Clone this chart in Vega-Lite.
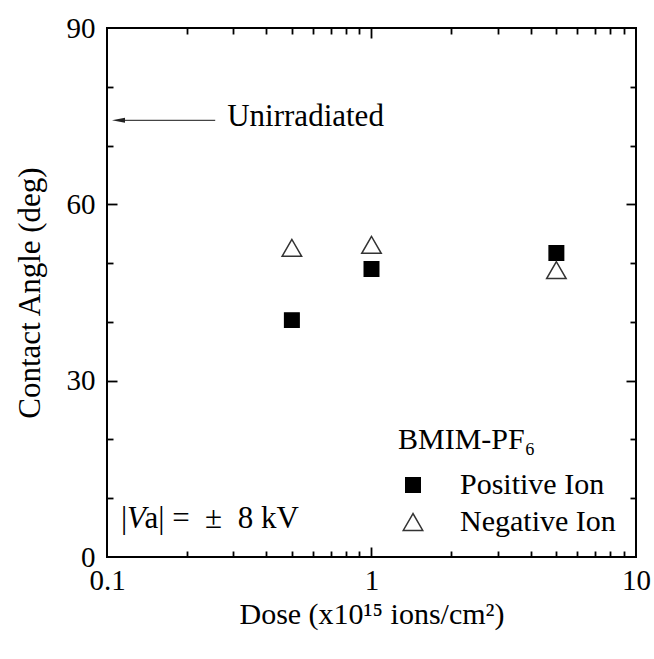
{
  "$schema": "https://vega.github.io/schema/vega-lite/v6.json",
  "width": 529,
  "height": 529,
  "autosize": {"type": "none"},
  "padding": {"left": 107, "top": 28, "right": 18, "bottom": 102},
  "background": "white",
  "config": {
    "font": "Liberation Serif",
    "view": {"stroke": "black", "strokeWidth": 2},
    "axis": {
      "labelFont": "Liberation Serif",
      "titleFont": "Liberation Serif",
      "labelColor": "black",
      "titleColor": "black",
      "titleFontWeight": "normal",
      "labelFontSize": 29,
      "titleFontSize": 30,
      "grid": false,
      "domain": false,
      "tickColor": "black",
      "tickWidth": 1.8
    },
    "legend": {"symbolOpacity": 1}
  },
  "datasets": {
    "pts": [
      {"dose": 0.5, "angle": 40.3, "series": "Positive Ion"},
      {"dose": 1, "angle": 49.0, "series": "Positive Ion"},
      {"dose": 5, "angle": 51.7, "series": "Positive Ion"},
      {"dose": 0.5, "angle": 52.6, "series": "Negative Ion"},
      {"dose": 1, "angle": 53.1, "series": "Negative Ion"},
      {"dose": 5, "angle": 48.8, "series": "Negative Ion"}
    ]
  },
  "resolve": {"axis": {"x": "independent", "y": "independent"}},
  "layer": [
    {
      "data": {"name": "pts"},
      "mark": {"type": "point", "filled": true, "opacity": 1, "strokeWidth": 1.5},
      "encoding": {
        "x": {
          "field": "dose", "type": "quantitative",
          "scale": {"type": "log", "domain": [0.1, 10], "nice": false},
          "axis": {"orient": "bottom", "values": [0.1, 1, 10], "format": "~g", "ticks": false, "labelFlush": false, "labelPadding": 9, "title": "Dose (x10¹⁵ ions/cm²)", "titlePadding": 4}
        },
        "y": {
          "field": "angle", "type": "quantitative",
          "scale": {"domain": [0, 90], "nice": false, "zero": true},
          "axis": {"orient": "left", "values": [0, 30, 60, 90], "ticks": false, "labelFlush": false, "labelPadding": 12, "title": "Contact Angle (deg)", "titleFontSize": 31, "titlePadding": 20}
        },
        "shape": {"field": "series", "type": "nominal", "title": "BMIM-PF₆",
          "scale": {"domain": ["Positive Ion", "Negative Ion"], "range": ["square", "triangle-up"]},
          "legend": {"orient": "none", "legendX": 291, "legendY": 397, "padding": 0, "offset": 0,
            "titleFont": "Liberation Serif", "titleFontSize": 30, "titleFontWeight": "normal", "titleColor": "black",
            "labelFont": "Liberation Serif", "labelFontSize": 30, "labelColor": "black",
            "labelOffset": 32, "rowPadding": 7, "titlePadding": 15, "symbolStrokeWidth": 1.5}},
        "fill": {"field": "series", "type": "nominal", "title": "BMIM-PF₆",
          "scale": {"domain": ["Positive Ion", "Negative Ion"], "range": ["black", "white"]}},
        "stroke": {"field": "series", "type": "nominal", "title": "BMIM-PF₆",
          "scale": {"domain": ["Positive Ion", "Negative Ion"], "range": ["black", "#333333"]}},
        "size": {"field": "series", "type": "nominal", "title": "BMIM-PF₆",
          "scale": {"domain": ["Positive Ion", "Negative Ion"], "range": [210, 380]}}
      }
    },
    {
      "data": {"name": "pts"},
      "mark": {"type": "point", "opacity": 0},
      "encoding": {
        "x": {"field": "dose", "type": "quantitative", "axis": {"orient": "bottom", "values": [1], "labels": false, "tickSize": -10, "title": null}},
        "y": {"field": "angle", "type": "quantitative", "axis": {"orient": "left", "values": [30, 60], "labels": false, "tickSize": -10, "title": null}}
      }
    },
    {
      "data": {"name": "pts"},
      "mark": {"type": "point", "opacity": 0},
      "encoding": {
        "x": {"field": "dose", "type": "quantitative", "axis": {"orient": "bottom", "values": [0.2, 0.3, 0.4, 0.5, 0.6, 0.7, 0.8, 0.9, 2, 3, 4, 5, 6, 7, 8, 9], "labels": false, "tickSize": -6, "title": null}},
        "y": {"field": "angle", "type": "quantitative", "axis": {"orient": "left", "values": [10, 20, 40, 50, 70, 80], "labels": false, "tickSize": -6, "title": null}}
      }
    },
    {
      "data": {"name": "pts"},
      "mark": {"type": "point", "opacity": 0},
      "encoding": {
        "x": {"field": "dose", "type": "quantitative", "axis": {"orient": "top", "values": [1], "labels": false, "tickSize": -10, "title": null}},
        "y": {"field": "angle", "type": "quantitative", "axis": {"orient": "right", "values": [30, 60], "labels": false, "tickSize": -10, "title": null}}
      }
    },
    {
      "data": {"name": "pts"},
      "mark": {"type": "point", "opacity": 0},
      "encoding": {
        "x": {"field": "dose", "type": "quantitative", "axis": {"orient": "top", "values": [0.2, 0.3, 0.4, 0.5, 0.6, 0.7, 0.8, 0.9, 2, 3, 4, 5, 6, 7, 8, 9], "labels": false, "tickSize": -6, "title": null}},
        "y": {"field": "angle", "type": "quantitative", "axis": {"orient": "right", "values": [10, 20, 40, 50, 70, 80], "labels": false, "tickSize": -6, "title": null}}
      }
    },
    {
      "data": {"values": [{"x1": 0.1105, "x2": 0.2565, "y": 74.3}]},
      "mark": {"type": "rule", "color": "#444444", "strokeWidth": 1.2},
      "encoding": {
        "x": {"field": "x1", "type": "quantitative", "axis": null},
        "x2": {"field": "x2"},
        "y": {"field": "y", "type": "quantitative", "axis": null}
      }
    },
    {
      "data": {"values": [{"x": 0.1105, "y": 74.3}]},
      "mark": {"type": "point", "shape": "M -1 0 L 1 -0.38 L 1 0.38 Z", "size": 169, "filled": true, "color": "#222222", "opacity": 1},
      "encoding": {
        "x": {"field": "x", "type": "quantitative", "axis": null},
        "y": {"field": "y", "type": "quantitative", "axis": null}
      }
    },
    {
      "data": {"values": [{"x": 0.2848, "y": 73.3, "t": "Unirradiated"}]},
      "mark": {"type": "text", "align": "left", "baseline": "alphabetic", "fontSize": 31, "font": "Liberation Serif", "color": "black"},
      "encoding": {
        "x": {"field": "x", "type": "quantitative", "axis": null},
        "y": {"field": "y", "type": "quantitative", "axis": null},
        "text": {"field": "t"}
      }
    },
    {
      "data": {"values": [{"x": 0.113, "y": 4.9, "t": "|"}, {"x": 0.1385, "y": 4.9, "t": "a| = \u00a0±\u00a0 8 kV"}]},
      "mark": {"type": "text", "align": "left", "baseline": "alphabetic", "fontSize": 31, "font": "Liberation Serif", "color": "black"},
      "encoding": {
        "x": {"field": "x", "type": "quantitative", "axis": null},
        "y": {"field": "y", "type": "quantitative", "axis": null},
        "text": {"field": "t"}
      }
    },
    {
      "data": {"values": [{"x": 0.1191, "y": 4.9, "t": "V"}]},
      "mark": {"type": "text", "align": "left", "baseline": "alphabetic", "fontSize": 31, "font": "Liberation Serif", "fontStyle": "italic", "color": "black"},
      "encoding": {
        "x": {"field": "x", "type": "quantitative", "axis": null},
        "y": {"field": "y", "type": "quantitative", "axis": null},
        "text": {"field": "t"}
      }
    }
  ]
}
